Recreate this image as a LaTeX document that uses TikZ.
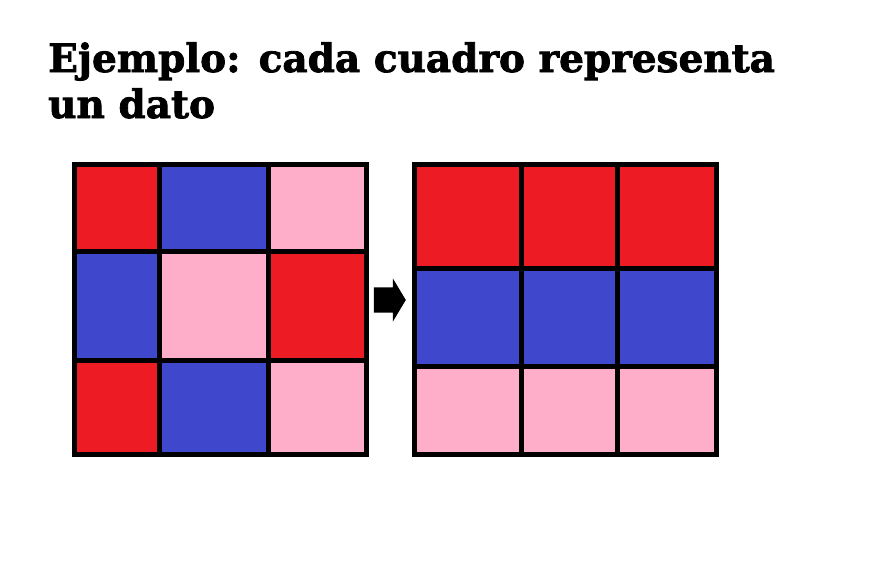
\documentclass[tikz,border=0pt]{standalone}
\usepackage{fontspec}
\setmainfont{DejaVu Serif}
\usetikzlibrary{fit,shapes.arrows}

\definecolor{datoRojo}{HTML}{ED1C24}
\definecolor{datoAzul}{HTML}{3F48CC}
\definecolor{datoRosa}{HTML}{FFAEC9}

\begin{document}
\begin{tikzpicture}[
        x=1pt, y=-1pt,
        cuadro/.style={
            rectangle,
            draw=black,
            line width=5pt,
            inner sep=0pt,
            outer sep=0pt
        },
        rojo/.style={cuadro, fill=datoRojo},
        azul/.style={cuadro, fill=datoAzul},
        rosa/.style={cuadro, fill=datoRosa},
        flecha/.style={
            single arrow,
            fill=black,
            draw=none,
            inner xsep=0pt,
            inner ysep=12.5pt,
            minimum height=32pt,
            single arrow head extend=9pt,
            single arrow tip angle=118
        },
        titulo/.style={
            anchor=base west,
            inner sep=0pt,
            font=\fontsize{39}{46}\selectfont\bfseries\addfontfeature{FakeBold=2}
        }
    ]

    \useasboundingbox (0,0) rectangle (871,576);

    \node[titulo] (titA) at (48,72) {Ejemplo: cada cuadro representa};
    \node[titulo] (titB) at (48,118) {un dato};

    % grid before
    \node[rojo] (L11) [fit={(74.5,164.5) (159.5,251)}] {};
    \node[azul] (L12) [fit={(159.5,164.5) (268.5,251)}] {};
    \node[rosa] (L13) [fit={(268.5,164.5) (366.5,251)}] {};

    \node[azul] (L21) [fit={(74.5,251) (159.5,360)}] {};
    \node[rosa] (L22) [fit={(159.5,251) (268.5,360)}] {};
    \node[rojo] (L23) [fit={(268.5,251) (366.5,360)}] {};

    \node[rojo] (L31) [fit={(74.5,360) (159.5,454.5)}] {};
    \node[azul] (L32) [fit={(159.5,360) (268.5,454.5)}] {};
    \node[rosa] (L33) [fit={(268.5,360) (366.5,454.5)}] {};

    % grid after
    \node[rojo] (R11) [fit={(414.5,164.5) (521.5,268)}] {};
    \node[rojo] (R12) [fit={(521.5,164.5) (617.5,268)}] {};
    \node[rojo] (R13) [fit={(617.5,164.5) (716.5,268)}] {};

    \node[azul] (R21) [fit={(414.5,268) (521.5,366.5)}] {};
    \node[azul] (R22) [fit={(521.5,268) (617.5,366.5)}] {};
    \node[azul] (R23) [fit={(617.5,268) (716.5,366.5)}] {};

    \node[rosa] (R31) [fit={(414.5,366.5) (521.5,454.5)}] {};
    \node[rosa] (R32) [fit={(521.5,366.5) (617.5,454.5)}] {};
    \node[rosa] (R33) [fit={(617.5,366.5) (716.5,454.5)}] {};

    \node[flecha] (flecha) at (386,300) {};

\end{tikzpicture}
\end{document}
